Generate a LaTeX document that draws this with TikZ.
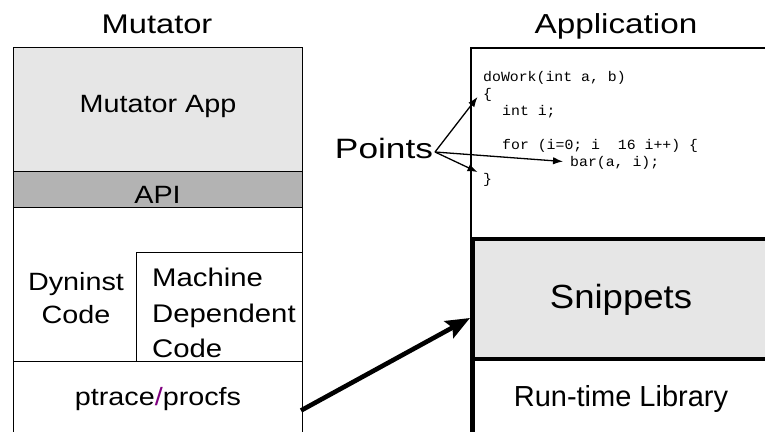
\documentclass[tikz,border=0pt]{standalone}
\usepackage{fontspec}
\setmainfont{Liberation Sans}
\newfontfamily\fnTitle[FakeStretch=1.21]{Liberation Sans}
\newfontfamily\fnPoints[FakeStretch=1.26]{Liberation Sans}
\newfontfamily\fnLabel[FakeStretch=1.15]{Liberation Sans}
\newfontfamily\fnSnip[FakeStretch=1.09]{Liberation Sans}
\newfontfamily\fnCode[FakeStretch=1.06]{Liberation Mono}
\usetikzlibrary{arrows.meta}
\definecolor{lightfill}{HTML}{E6E6E6}
\definecolor{apifill}{HTML}{B3B3B3}
\definecolor{slashpurple}{HTML}{800080}

\begin{document}
\begin{tikzpicture}[x=1pt,y=-1pt,
  lbl/.style={inner sep=0pt, anchor=base},
  lblw/.style={inner sep=0pt, anchor=base west},
  thinbox/.style={draw=black, line width=1pt},
  heavybox/.style={draw=black, line width=4.6pt},
  codeline/.style={inner sep=0pt, anchor=base west, font=\fnCode\fontsize{14}{16}\selectfont},
  pointer/.style={line width=1.3pt, -{Latex[length=10pt,width=7.5pt]}},
  bigarrow/.style={line width=4.6pt, -{Stealth[length=24pt,width=19pt,inset=4pt]}}]
\useasboundingbox (0,0) rectangle (765,431);
\clip (0,0) rectangle (765,431);

% ---------------- Mutator stack ----------------
\draw[thinbox, fill=lightfill] (13,47) rectangle (302,171);
\draw[thinbox, fill=apifill]   (13,171) rectangle (302,207);
\draw[thinbox, fill=white]     (13,207) rectangle (302,361);
\draw[thinbox, fill=white]     (136,252) rectangle (302,361);
\draw[thinbox, fill=white]     (13,361) rectangle (302,445);

\node[lbl, font=\fnTitle\fontsize{27}{30}\selectfont] (mutTitle) at (157,33) {Mutator};
\node[lbl, font=\fnLabel\fontsize{25}{28}\selectfont] (mutApp) at (158,112.5) {Mutator App};
\node[lbl, font=\fnLabel\fontsize{25}{28}\selectfont] (api) at (157.5,203) {API};
\node[lbl, font=\fnLabel\fontsize{25}{28}\selectfont] (dyn1) at (76,290) {Dyninst};
\node[lbl, font=\fnLabel\fontsize{25}{28}\selectfont] (dyn2) at (76,323) {Code};
\node[lblw, font=\fnLabel\fontsize{25.5}{28}\selectfont] (mach1) at (152,286) {Machine};
\node[lblw, font=\fnLabel\fontsize{25.5}{28}\selectfont] (mach2) at (152,322) {Dependent};
\node[lblw, font=\fnLabel\fontsize{25.5}{28}\selectfont] (mach3) at (152,357) {Code};
\node[lbl, font=\fnLabel\fontsize{25}{28}\selectfont] (ptrace) at (158,405)
  {ptrace\textcolor{slashpurple}{/}procfs};

% ---------------- Application stack ----------------
\draw[thinbox, line width=1.3pt] (471,48) rectangle (790,445);
\draw[heavybox, fill=lightfill] (472.5,239) rectangle (790,359);
\draw[heavybox, fill=white]     (472.5,359) rectangle (790,450);

\node[lbl, font=\fnTitle\fontsize{27.5}{30}\selectfont] (appTitle) at (616,33) {Application};
\node[lbl, font=\fnSnip\fontsize{33.5}{36}\selectfont] (snippets) at (621,308.5) {Snippets};
\node[lbl, font=\fontsize{29}{32}\selectfont] (rtlib) at (621,406.5) {Run-time Library};

% source listing
\node[codeline] (c1) at (483,81.7)  {doWork(int a, b)};
\node[codeline] (c2) at (483,98.7)  {\{};
\node[codeline] (c3) at (502,115.7) {int i;};
\node[codeline] (c4) at (502,149.7) {for (i=0; i\ \ 16 i++) \{};
\node[codeline] (c5) at (570,166.7) {bar(a, i);};
\node[codeline] (c6) at (483,183.7) {\}};

% instrumentation points
\node[lbl, font=\fnPoints\fontsize{28}{30}\selectfont] (points) at (384,158.3) {Points};
\coordinate (ptsrc) at (435,152);
\coordinate (ptEntry) at (477.5,97);
\coordinate (ptCall) at (563,161.5);
\coordinate (ptExit) at (477.5,172);
\draw[pointer] (ptsrc) -- (ptEntry);
\draw[pointer] (ptsrc) -- (ptCall);
\draw[pointer] (ptsrc) -- (ptExit);

% inserting snippets through ptrace/procfs
\coordinate (ptraceOut) at (301,410.5);
\coordinate (snipIn) at (470,318);
\draw[bigarrow] (ptraceOut) -- (snipIn);
\end{tikzpicture}
\end{document}
